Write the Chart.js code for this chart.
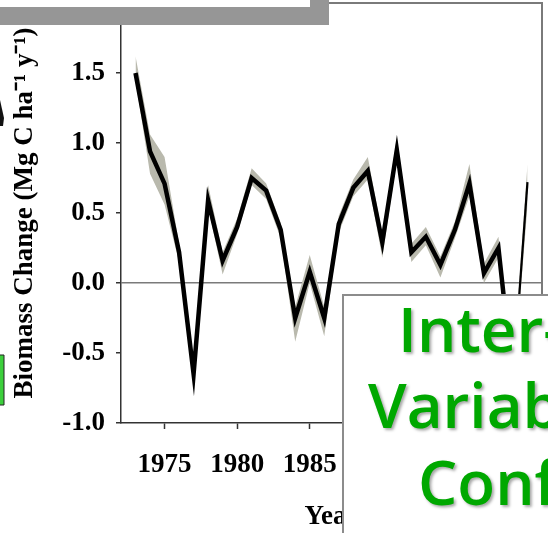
<!DOCTYPE html>
<html>
<head>
<meta charset="utf-8">
<script src="https://cdn.jsdelivr.net/npm/chart.js@4.4.1/dist/chart.umd.min.js"></script>
<style>
	body { margin: 0; background: #fff; }
	#wrap { width: 548px; height: 533px; position: relative; }
</style>
</head>
<body>
<div id="wrap"><canvas id="chart1" width="548" height="533"></canvas></div>
<script>
// yearly biomass change, with the grey uncertainty band
const years = [1973, 1974, 1975, 1976, 1977, 1978, 1979, 1980, 1981, 1982, 1983, 1984, 1985, 1986,
	1987, 1988, 1989, 1990, 1991, 1992, 1993, 1994, 1995, 1996, 1997, 1998, 1999, 2000];
const biomass = [1.5, 0.94, 0.71, 0.22, -0.65, 0.59, 0.16, 0.4, 0.75, 0.66, 0.38, -0.25, 0.08, -0.25,
	0.42, 0.68, 0.8, 0.29, 0.95, 0.22, 0.33, 0.13, 0.38, 0.71, 0.07, 0.25, -0.7, 0.72];
const upper = [1.62, 1.06, 0.9, 0.28, -0.6, 0.7, 0.22, 0.46, 0.82, 0.71, 0.43, -0.17, 0.2, -0.17,
	0.48, 0.74, 0.9, 0.35, 1.04, 0.28, 0.4, 0.19, 0.44, 0.85, 0.14, 0.33, -0.65, 0.85];
const lower = [1.45, 0.78, 0.56, 0.15, -0.72, 0.54, 0.06, 0.35, 0.7, 0.6, 0.32, -0.42, 0.0, -0.38,
	0.36, 0.62, 0.74, 0.18, 0.88, 0.15, 0.27, 0.04, 0.32, 0.62, 0.0, 0.18, -0.75, 0.55];
const yTicks = [-1.0, -0.5, 0.0, 0.5, 1.0, 1.5, 2.0];
const xTicks = [1975, 1980, 1985, 1990, 1995, 2000];
const slideText = ['Inter-', 'Variab', 'Conf'];

const pts = (arr) => years.map((yr, i) => ({ x: yr, y: arr[i] }));
const serif = 'Liberation Serif, Times New Roman, serif';

// frame + slide pieces laid over the chart
const overlay = {
	id: 'overlay',
	beforeDatasetsDraw(chart) {
		const { ctx, chartArea: a } = chart;
		ctx.save();
		ctx.strokeStyle = '#7a7a7a';
		ctx.lineWidth = 2;
		ctx.beginPath();
		ctx.moveTo(a.left, a.top);
		ctx.lineTo(a.right, a.top);
		ctx.lineTo(a.right, a.bottom);
		ctx.stroke();
		ctx.restore();
	},
	afterDraw(chart) {
		const ctx = chart.ctx;
		ctx.save();
		// grey box top left
		ctx.fillStyle = '#969696';
		ctx.fillRect(0, 0, 329, 25);
		ctx.fillStyle = '#fff';
		ctx.fillRect(0, 0, 310, 7);

		// bits of other slide shapes on the left edge
		ctx.fillStyle = '#111';
		ctx.beginPath();
		ctx.moveTo(0, 100);
		ctx.lineTo(4, 118);
		ctx.lineTo(3, 126);
		ctx.lineTo(0, 126);
		ctx.closePath();
		ctx.fill();
		ctx.fillStyle = '#3ccf3c';
		ctx.strokeStyle = '#222';
		ctx.lineWidth = 1;
		ctx.beginPath();
		ctx.rect(-4, 355, 8, 50);
		ctx.fill();
		ctx.stroke();

		// white text box
		ctx.fillStyle = '#fff';
		ctx.fillRect(343, 295, 260, 260);
		ctx.strokeStyle = '#8c8c8c';
		ctx.lineWidth = 2;
		ctx.strokeRect(343, 295, 260, 260);

		ctx.font = '600 62px "Open Sans", sans-serif';
		ctx.fillStyle = '#00a800';
		ctx.shadowColor = 'rgba(0,0,0,0.35)';
		ctx.shadowOffsetX = 2;
		ctx.shadowOffsetY = 2;
		ctx.shadowBlur = 3;
		ctx.textBaseline = 'alphabetic';
		ctx.fillText(slideText[0], 398, 352);
		ctx.fillText(slideText[1], 368, 428);
		ctx.fillText(slideText[2], 418, 505);
		ctx.restore();
	}
};

const c1 = new Chart(document.getElementById('chart1'), {
	type: 'line',
	data: {
		datasets: [
			{
				label: 'Biomass change',
				data: pts(biomass),
				borderColor: '#000',
				borderWidth: 4.5,
				borderJoinStyle: 'miter',
				pointRadius: 0,
				fill: false,
				order: 0,
				segment: {
					borderWidth: (ctx) => (ctx.p1DataIndex === years.length - 1 ? 2.2 : undefined)
				}
			},
			{
				label: 'upper',
				data: pts(upper),
				borderWidth: 0,
				pointRadius: 0,
				backgroundColor: '#b9b9ad',
				fill: '+1',
				order: 1
			},
			{
				label: 'lower',
				data: pts(lower),
				borderWidth: 0,
				pointRadius: 0,
				fill: false,
				order: 2
			}
		]
	},
	options: {
		responsive: false,
		animation: false,
		layout: { padding: { left: 0, right: 6, top: 3, bottom: 0 } },
		plugins: {
			legend: { display: false },
			tooltip: { enabled: false }
		},
		scales: {
			x: {
				type: 'linear',
				min: 1972,
				max: 2001,
				afterBuildTicks: (scale) => {
					scale.ticks = xTicks.map((v) => ({ value: v }));
				},
				afterFit: (scale) => {
					scale.height = 110;
					scale.paddingLeft = 0;
					scale.paddingRight = 0;
				},
				grid: {
					drawOnChartArea: false,
					tickLength: 6,
					tickColor: '#333',
					tickWidth: 1.5
				},
				border: { color: '#333', width: 1.5 },
				ticks: {
					padding: 20,
					color: '#000',
					maxRotation: 0,
					font: { family: serif, size: 27, weight: 'bold' },
					callback: (v) => String(v)
				},
				title: {
					display: true,
					text: 'Year',
					color: '#000',
					padding: { top: 0, bottom: 0 },
					font: { family: serif, size: 27, weight: 'bold' }
				}
			},
			y: {
				min: -1,
				max: 2,
				afterBuildTicks: (scale) => {
					scale.ticks = yTicks.map((v) => ({ value: v }));
				},
				afterFit: (scale) => {
					scale.width = 121;
					scale.paddingTop = 0;
					scale.paddingBottom = 0;
				},
				grid: {
					drawOnChartArea: true,
					color: (ctx) => (ctx.tick && ctx.tick.value === 0 ? '#7a7a7a' : 'rgba(0,0,0,0)'),
					lineWidth: 1.5,
					tickLength: 5,
					tickColor: '#333',
					tickWidth: 1.5
				},
				border: { color: '#333', width: 1.5 },
				ticks: {
					padding: 11,
					color: '#000',
					font: { family: serif, size: 27, weight: 'bold' },
					callback: (v) => Number(v).toFixed(1)
				},
				title: {
					display: true,
					text: 'Biomass Change (Mg C ha⁻¹ y⁻¹)',
					color: '#000',
					padding: { top: 9, bottom: 0 },
					font: { family: serif, size: 27, weight: 'bold' }
				}
			}
		}
	},
	plugins: [overlay]
});
</script>
</body>
</html>
